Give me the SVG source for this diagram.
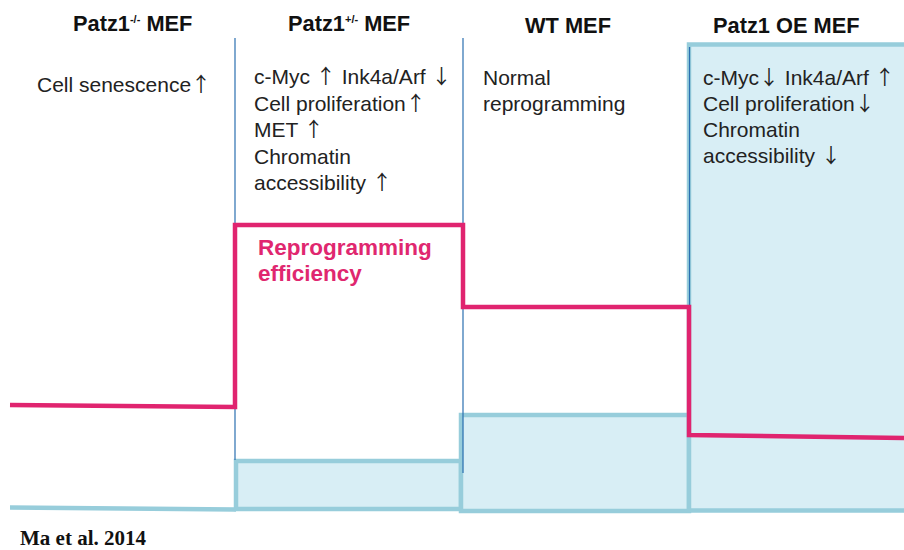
<svg xmlns="http://www.w3.org/2000/svg" width="904" height="550" viewBox="0 0 904 550">
  <style>
    .title { font-family: "Liberation Sans", Arial, sans-serif; font-weight: bold; font-size: 21.8px; fill: #111; }
    .sup { font-size: 11px; }
    .body { font-family: "Liberation Sans", Arial, sans-serif; font-size: 21px; fill: #222; }
    .arr { font-family: "Noto Sans CJK SC", "Noto Sans CJK JP", sans-serif; font-size: 20px; fill: #222; }
    .eff { font-family: "Liberation Sans", Arial, sans-serif; font-weight: bold; font-size: 22.5px; fill: #e0276f; }
    .cite { font-family: "Liberation Serif", "Times New Roman", serif; font-weight: bold; font-size: 20px; fill: #111; }
    .box { fill: #d8eef5; stroke: #97cddb; stroke-width: 4.5; }
    .base { fill: none; stroke: #97cddb; stroke-width: 4.5; }
    .sep { stroke: #2a6fb0; stroke-width: 1.2; fill: none; }
    .efficiency { fill: none; stroke: #e0246f; stroke-width: 4.5; stroke-linejoin: miter; }
  </style>

  <rect width="904" height="550" fill="#ffffff"/>

  <!-- Patz1 knockout column -->
  <g id="col-knockout">
    <text class="title" x="73" y="31">Patz1<tspan class="sup" dy="-8">-/-</tspan><tspan dy="8"> MEF</tspan></text>
    <text class="body" x="37" y="92">Cell senescence<tspan class="arr">↑</tspan></text>
  </g>

  <!-- Patz1 heterozygous column -->
  <g id="col-het">
    <rect class="box" x="236" y="461" width="225" height="48"/>
    <text class="title" x="288" y="31">Patz1<tspan class="sup" dy="-8">+/-</tspan><tspan dy="8"> MEF</tspan></text>
    <text class="body" x="254" y="84">c-Myc <tspan class="arr">↑</tspan> Ink4a/Arf <tspan class="arr">↓</tspan></text>
    <text class="body" x="254" y="111">Cell proliferation<tspan class="arr">↑</tspan></text>
    <text class="body" x="254" y="137">MET <tspan class="arr">↑</tspan></text>
    <text class="body" x="254" y="164">Chromatin</text>
    <text class="body" x="254" y="190">accessibility <tspan class="arr">↑</tspan></text>
  </g>

  <!-- Wild-type column -->
  <g id="col-wt">
    <rect class="box" x="461" y="415" width="228" height="96"/>
    <text class="title" x="525" y="33">WT MEF</text>
    <text class="body" x="483" y="85">Normal</text>
    <text class="body" x="483" y="111">reprogramming</text>
  </g>

  <!-- Patz1 overexpression column -->
  <g id="col-oe">
    <rect class="box" x="689" y="44.5" width="230" height="466"/>
    <text class="title" x="713" y="33">Patz1 OE MEF</text>
    <text class="body" x="703" y="85">c-Myc<tspan class="arr">↓</tspan> Ink4a/Arf <tspan class="arr">↑</tspan></text>
    <text class="body" x="703" y="111">Cell proliferation<tspan class="arr">↓</tspan></text>
    <text class="body" x="703" y="137">Chromatin</text>
    <text class="body" x="703" y="163">accessibility <tspan class="arr">↓</tspan></text>
  </g>

  <g id="connectors">
    <!-- baseline under the knockout column -->
    <path class="base" d="M10 507.5 L236 509.5"/>
    <!-- column separators -->
    <path class="sep" d="M235 38 V460"/>
    <path class="sep" d="M463 38 V473"/>
    <path class="sep" d="M689.5 47 V435"/>
    <!-- reprogramming efficiency step line -->
    <path class="efficiency" d="M10 405 L235 407 V225 H463 V307 H689 V435 L904 438"/>
  </g>

  <g id="label-efficiency">
    <text class="eff" x="258" y="255">Reprogramming</text>
    <text class="eff" x="258" y="281">efficiency</text>
  </g>

  <text class="cite" x="20" y="545" textLength="126" lengthAdjust="spacingAndGlyphs">Ma et al. 2014</text>
</svg>
